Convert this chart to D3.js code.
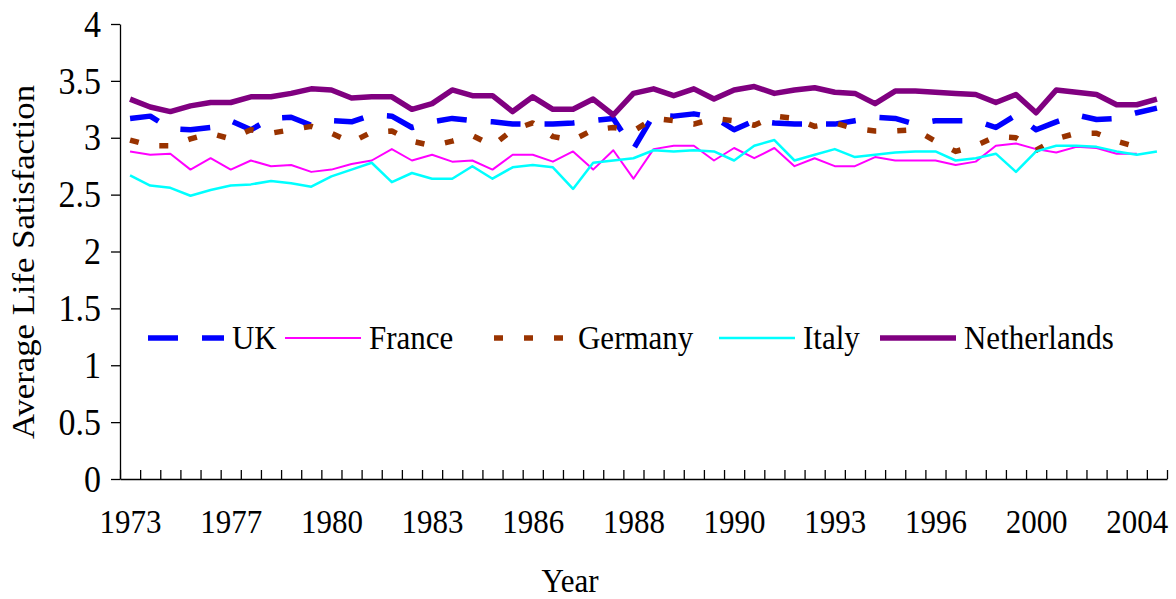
<!DOCTYPE html>
<html>
<head>
<meta charset="utf-8">
<script src="https://cdn.jsdelivr.net/npm/d3@7"></script>
<style>
  body { margin: 0; background: #fff; }
  text { font-family: "Liberation Serif", "Times New Roman", serif; fill: #000; }
  /* the original glyphs are a bit taller than they are wide */
  .tall { transform-box: fill-box; transform-origin: 50% 50%; transform: scaleY(1.12); }
</style>
</head>
<body>
<svg class="svg-content" width="1176" height="599"></svg>
<script>
// one point per survey wave, labels only every 5th wave
const tickLabels = ["1973", "1977", "1980", "1983", "1986", "1988", "1990", "1993", "1996", "2000", "2004"];
const labelEvery = 5;
const waveCount = 52;

const uk = [3.17, 3.19, 3.08, 3.07, 3.09, 3.15, 3.07, 3.17, 3.18, 3.11, 3.15, 3.14, 3.20, 3.19, 3.09, 3.14, 3.17, 3.15, 3.14, 3.12,
            3.12, 3.12, 3.13, 3.15, 3.17, 2.90, 3.20, 3.19, 3.21, 3.18, 3.07, 3.15, 3.13, 3.12, 3.12, 3.12, 3.15, 3.18, 3.17, 3.12,
            3.15, 3.15, 3.15, 3.09, 3.20, 3.07, 3.14, 3.20, 3.16, 3.17, 3.22, 3.26];
const france = [2.88, 2.85, 2.86, 2.72, 2.82, 2.72, 2.80, 2.75, 2.76, 2.70, 2.72, 2.77, 2.80, 2.90, 2.80, 2.85, 2.79, 2.80, 2.72, 2.85,
                2.85, 2.79, 2.88, 2.72, 2.89, 2.64, 2.90, 2.93, 2.93, 2.80, 2.91, 2.82, 2.91, 2.75, 2.82, 2.75, 2.75, 2.83, 2.80, 2.80,
                2.80, 2.76, 2.79, 2.93, 2.95, 2.90, 2.87, 2.92, 2.91, 2.86, 2.86, null];
const germany = [2.98, 2.93, 2.93, 2.99, 3.04, 2.99, 3.07, 3.04, 3.07, 3.10, 3.04, 2.96, 3.05, 3.06, 2.97, 2.93, 2.97, 3.02, 2.93, 3.07,
                 3.13, 3.01, 2.98, 3.07, 3.09, 3.06, 3.17, 3.15, 3.12, 3.17, 3.15, 3.11, 3.19, 3.17, 3.10, 3.13, 3.08, 3.06, 3.06, 3.07,
                 2.97, 2.88, 2.93, 3.01, 3.00, 2.89, 2.99, 3.04, 3.04, 2.97, 2.92, null];
const italy = [2.67, 2.58, 2.56, 2.49, 2.54, 2.58, 2.59, 2.62, 2.60, 2.57, 2.66, 2.72, 2.78, 2.61, 2.69, 2.64, 2.64, 2.75, 2.64, 2.74,
               2.76, 2.74, 2.55, 2.78, 2.80, 2.82, 2.89, 2.88, 2.89, 2.88, 2.80, 2.93, 2.98, 2.80, 2.85, 2.90, 2.83, 2.85, 2.87, 2.88,
               2.88, 2.80, 2.82, 2.86, 2.70, 2.88, 2.93, 2.93, 2.92, 2.88, 2.85, 2.88];
const netherlands = [3.34, 3.27, 3.23, 3.28, 3.31, 3.31, 3.36, 3.36, 3.39, 3.43, 3.42, 3.35, 3.36, 3.36, 3.25, 3.30, 3.42, 3.37, 3.37, 3.23,
                     3.36, 3.25, 3.25, 3.34, 3.20, 3.39, 3.43, 3.37, 3.43, 3.34, 3.42, 3.45, 3.39, 3.42, 3.44, 3.40, 3.39, 3.30, 3.41, 3.41,
                     3.40, 3.39, 3.38, 3.31, 3.38, 3.22, 3.42, 3.40, 3.38, 3.29, 3.29, 3.34];

const yTicks = [0, 0.5, 1, 1.5, 2, 2.5, 3, 3.5, 4];

const series = [
  { name: "UK", values: uk, color: "#0000ff", width: 5.5, dash: "30,24" },
  { name: "France", values: france, color: "#ff00ff", width: 2, dash: null },
  { name: "Germany", values: germany, color: "#993300", width: 5.5, dash: "9,21" },
  { name: "Italy", values: italy, color: "#00ffff", width: 2.5, dash: null },
  { name: "Netherlands", values: netherlands, color: "#800080", width: 5.5, dash: null }
];

const margin = { left: 120, right: 9, top: 24, bottom: 120 };
const width = 1176, height = 599;

const svg = d3.select(".svg-content");

const x = d3.scaleLinear()
            .domain([0, waveCount])
            .range([margin.left, width - margin.right]);

const y = d3.scaleLinear()
            .domain([0, 4])
            .range([height - margin.bottom, margin.top]);

// y axis
svg.append("g")
   .attr("transform", `translate(${margin.left},0)`)
   .call(d3.axisLeft(y).tickValues(yTicks).tickSize(9).tickSizeOuter(0).tickPadding(10).tickFormat(d3.format("")))
   .call(g => g.selectAll("text").attr("class", "tall").style("font-size", "34px").attr("font-family", null))
   .call(g => g.selectAll("path, line").attr("stroke", "#000").attr("stroke-width", 1.3));

// x axis: tick marks between waves, pointing up
svg.append("g")
   .attr("transform", `translate(0,${y(0)})`)
   .call(d3.axisBottom(x).tickValues(d3.range(waveCount + 1)).tickSize(-9).tickSizeOuter(0).tickFormat(""))
   .call(g => g.selectAll("path, line").attr("stroke", "#000").attr("stroke-width", 1.3));

// x labels centred on every 5th wave
svg.append("g")
   .attr("transform", `translate(0,${y(0)})`)
   .call(d3.axisBottom(x)
           .tickValues(tickLabels.map((d, i) => i * labelEvery + 0.5))
           .tickSize(0)
           .tickPadding(31)
           .tickFormat((d, i) => tickLabels[i]))
   .call(g => g.select(".domain").remove())
   .call(g => g.selectAll("text").attr("class", "tall").style("font-size", "31px").attr("font-family", null));

const line = d3.line()
               .defined(d => d != null)
               .x((d, i) => x(i + 0.5))
               .y(d => y(d));

svg.append("g")
   .selectAll("path")
   .data(series)
   .enter()
   .append("path")
   .attr("d", d => line(d.values))
   .attr("fill", "none")
   .attr("stroke", d => d.color)
   .attr("stroke-width", d => d.width)
   .attr("stroke-dasharray", d => d.dash)
   .attr("stroke-linejoin", "round");

// legend
const legendX = [148, 285, 494, 719, 880];
const legend = svg.append("g")
                  .selectAll("g")
                  .data(series)
                  .enter()
                  .append("g")
                  .attr("transform", (d, i) => `translate(${legendX[i]},338)`);

legend.append("line")
      .attr("x1", 0)
      .attr("x2", 76)
      .attr("stroke", d => d.color)
      .attr("stroke-width", d => d.width)
      .attr("stroke-dasharray", d => d.dash);

legend.append("text")
      .attr("class", "tall")
      .attr("x", 84)
      .attr("y", 10)
      .style("font-size", "31px")
      .text(d => d.name);

// axis titles
svg.append("text")
   .attr("transform", `translate(34,262) rotate(-90) scale(1.12,1)`)
   .attr("text-anchor", "middle")
   .style("font-size", "31px")
   .text("Average Life Satisfaction");

svg.append("text")
   .attr("class", "tall")
   .attr("x", 570)
   .attr("y", 591)
   .attr("text-anchor", "middle")
   .style("font-size", "31px")
   .text("Year");
</script>
</body>
</html>
